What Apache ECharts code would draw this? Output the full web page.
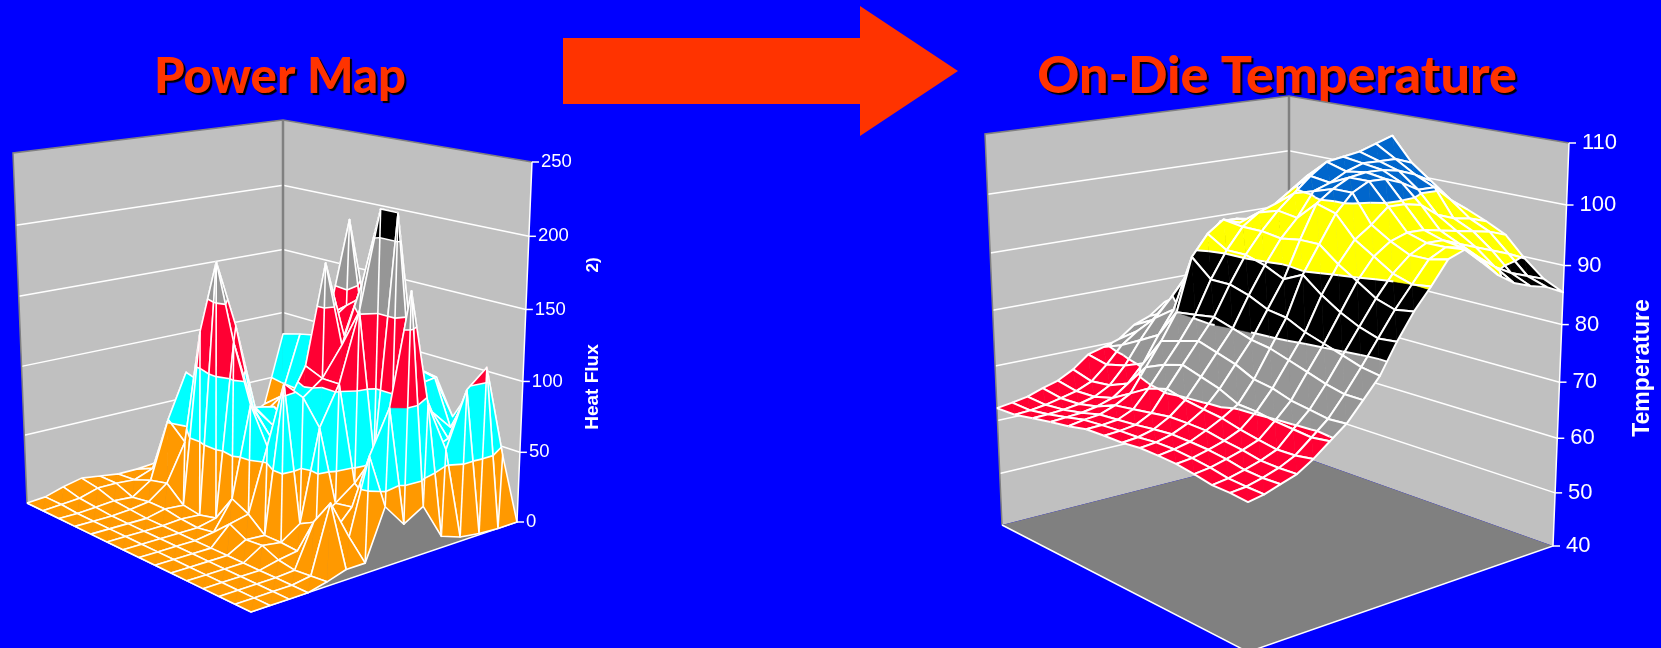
<!DOCTYPE html>
<html>
<head>
<meta charset="utf-8">
<title>Power Map / On-Die Temperature</title>
<style>
    html, body { margin: 0; padding: 0; background: #0000ff; }
    #chart { position: absolute; top: 0; left: 0; width: 1661px; height: 648px; }
</style>
<script src="https://cdn.jsdelivr.net/npm/echarts@6/dist/echarts.min.js"></script>
</head>
<body>
<div id="chart"></div>
<script>
// heat flux, rows run from the back left edge to the front, columns from front left to back right
let powerRows = [
    [0, 1, 5, 8, 6, 4, 4, 5, 12, 15, 18, 20, 22, 30, 83],
    [0, 1, 2, 6, 6, 5, 10, 35, 30, 20, 25, 25, 30, 41, 87],
    [0, 0, 1, 2, 1, 10, 52, 84, 55, 40, 35, 30, 38, 46, 90],
    [0, 0, 0, 1, 3, 13, 40, 80, 50, 45, 42, 35, 40, 60, 50],
    [0, 0, 0, 0, 3, 2, 125, 140, 60, 50, 40, 42, 85, 75, 50],
    [0, 0, 0, 0, 1, 0, 178, 130, 68, 65, 50, 70, 115, 110, 60],
    [0, 0, 0, 0, 0, 3, 125, 76, 60, 55, 80, 130, 196, 120, 70],
    [0, 0, 0, 0, 2, 22, 85, 60, 65, 103, 130, 140, 110, 70, 55],
    [0, 0, 0, 0, 13, 16, 60, 85, 110, 179, 125, 150, 130, 80, 60],
    [0, 0, 0, 0, 7, 6, 108, 95, 105, 125, 165, 150, 120, 95, 85],
    [0, 0, 0, 0, 8, 6, 15, 78, 105, 152, 219, 165, 90, 92, 60],
    [0, 0, 0, 0, 3, 5, 21, 30, 40, 55, 219, 110, 75, 60, 83],
    [0, 0, 0, 0, 1, 30, 18, 32, 30, 50, 100, 55, 60, 85, 84],
    [0, 0, 0, 0, 2, 47, 20, 71, 100, 175, 95, 60, 98, 110, 44],
    [0, 0, 0, 0, 3, 7, 7, 41, 25, 33, 8, 3, 1, 0, 0]
]
let powerTicks = [0, 50, 100, 150, 200, 250]
let powerColors = ["#ff9900", "#00ffff", "#ff0033", "#969696", "#000000"]

// die temperature, same orientation
let tempRows = [
    [62.3, 62.7, 63.2, 64.2, 65, 66.5, 68.7, 69.5, 70.4, 72.5, 73.6, 75.7, 76.5, 77.5, 78.5, 80, 81.5, 83, 84.5, 86],
    [62.4, 62.6, 63, 63.6, 64.3, 65.5, 68, 71, 73, 74.5, 75.5, 77, 79, 81, 83, 85, 86.5, 88, 89, 90],
    [63.1, 63.2, 63.4, 63.8, 64.5, 66, 69, 73, 76.5, 79.5, 83, 87, 89, 89.5, 90, 90.5, 91, 91, 91, 91],
    [63.7, 63.9, 64.1, 64.6, 65.5, 67.5, 70.5, 75, 79, 85, 90, 93, 93, 92.5, 92.5, 93, 93, 93, 92.5, 92],
    [64.2, 64.7, 65, 66, 67.5, 71.5, 75.5, 80, 89, 92.5, 94.5, 93.5, 93.5, 94, 95, 96, 96.5, 96.5, 96, 95],
    [64.9, 65, 65.3, 66.5, 69.5, 73, 76.5, 80.5, 86, 90.5, 94, 96, 97, 99, 101, 102, 102, 102, 102, 96],
    [65, 65.2, 65.6, 67, 70.5, 74, 77.5, 81, 86, 90.5, 94, 97, 99.5, 102, 104, 104.5, 105, 106, 107, 96],
    [65, 65.3, 66, 67.5, 69.7, 73, 76.5, 80, 85, 89.5, 93.5, 96.5, 100.5, 101.5, 103, 104, 104, 104, 103, 95.3],
    [65.3, 65.6, 66.3, 67.5, 69.2, 72, 75.5, 79, 83.5, 88, 94, 99.5, 101.5, 103, 103.5, 103.5, 103, 102, 100.5, 95.3],
    [65.2, 65.6, 66.2, 67.4, 68.8, 70.5, 74, 78.5, 83, 89.5, 94, 98.5, 101.5, 103, 103, 102, 100.5, 100.5, 98, 96],
    [65, 65.3, 66, 66.8, 68, 70.3, 73.5, 77.5, 81.5, 87, 91.5, 95, 97, 99.5, 99.5, 99, 97, 96, 95.5, 94.6],
    [64.5, 64.9, 65.6, 66.4, 67.4, 69.8, 72.5, 76.5, 80.5, 85, 89.5, 93, 95, 96, 96, 95.5, 95, 94.5, 94, 93],
    [63.9, 64.3, 65, 65.8, 66.9, 69.5, 72, 75.5, 79.5, 83.5, 87.5, 91, 93.5, 95, 95, 94, 93, 92, 91, 89.7],
    [63.8, 64.1, 64.8, 65.7, 67, 69.2, 71.5, 74.8, 78.5, 82.5, 86.5, 90, 93.5, 95, 94.5, 92.5, 90.5, 89, 88, 87],
    [63.5, 64, 64.9, 65.8, 67.5, 69.6, 71.7, 74.8, 78, 82.8, 87, 90.4, 94.2, 95.3, 92.9, 90.4, 88.6, 87.6, 86.9, 85.5]
]
let tempTicks = [40, 50, 60, 70, 80, 90, 100, 110]
let tempColors = ["#ff0033", "#ff0033", "#ff0033", "#969696", "#000000", "#ffff00", "#0066cc"]

// box corners in order left, front, right, back
let powerBox = {
    rows: powerRows,
    ticks: powerTicks,
    colors: powerColors,
    floor: [[27, 503], [251, 612], [517, 522], [283, 436]],
    rise: [[-14, -350], [0, -400], [15, -360], [0, -316]],
    bend: 0.04,
    labelGap: 9,
    tickLen: 7,
    fontSize: 18.5,
    lineWidth: 1.6,
    diagonal: 60
}
let tempBox = {
    rows: tempRows,
    ticks: tempTicks,
    colors: tempColors,
    floor: [[1002, 525], [1248, 652], [1553, 546], [1289, 452]],
    rise: [[-17, -391], [0, -475], [16, -403], [0, -356]],
    bend: 0.09,
    labelGap: 13,
    tickLen: 7,
    fontSize: 22,
    lineWidth: 2,
    diagonal: 1000
}

function mix(corners, u, v){
    return [0, 1].map(k => (1 - u) * (1 - v) * corners[0][k] + u * (1 - v) * corners[1][k] + u * v * corners[2][k] + (1 - u) * v * corners[3][k])
}

function project(box, p){
    let u = p[0] / (box.rows.length - 1)
    let v = p[1] / (box.rows[0].length - 1)
    let zMin = box.ticks[0]
    let t = (p[2] - zMin) / (box.ticks[box.ticks.length - 1] - zMin)
    let f = t * (1 - box.bend) + box.bend * t * t
    let base = mix(box.floor, u, v)
    let up = mix(box.rise, u, v)
    return [base[0] + f * up[0], base[1] + f * up[1]]
}

// keep the part of a triangle that lies between two heights
function clipAbove(poly, level, sign){
    let out = []
    poly.forEach((a, n) => {
        let b = poly[(n + 1) % poly.length]
        let da = (a[2] - level) * sign
        let db = (b[2] - level) * sign
        if (da >= 0) out.push(a)
        if ((da > 0 && db < 0) || (da < 0 && db > 0)){
            let t = da / (da - db)
            out.push([a[0] + (b[0] - a[0]) * t, a[1] + (b[1] - a[1]) * t, level])
        }
    })
    return out
}

function crossing(tri, level){
    let pts = []
    tri.forEach((a, n) => {
        let b = tri[(n + 1) % 3]
        if ((a[2] - level) * (b[2] - level) < 0){
            let t = (level - a[2]) / (b[2] - a[2])
            pts.push([a[0] + (b[0] - a[0]) * t, a[1] + (b[1] - a[1]) * t, level])
        }
    })
    return pts.length === 2 ? pts : null
}

function toPoints(box, api, poly){
    return poly.map(p => api.coord(project(box, p)))
}

function whiteLine(points, width){
    return {
        type: "polyline",
        shape: { points: points },
        style: { stroke: "#fff", lineWidth: width, fill: null, lineJoin: "round" },
        silent: true
    }
}

function renderSurface(box, params, api){
    let i = api.value(0)
    let j = api.value(1)
    let at = (a, b) => [a, b, box.rows[a][b]]
    let p00 = at(i, j), p10 = at(i + 1, j), p11 = at(i + 1, j + 1), p01 = at(i, j + 1)
    let children = []
    let tris = [[p00, p10, p01], [p10, p11, p01]]
    tris.forEach(tri => {
        box.colors.forEach((color, n) => {
            let poly = clipAbove(clipAbove(tri, box.ticks[n], 1), box.ticks[n + 1], -1)
            if (poly.length < 3) return
            children.push({
                type: "polygon",
                shape: { points: toPoints(box, api, poly) },
                style: { fill: color, stroke: color, lineWidth: 0.6 },
                silent: true
            })
        })
    })
    tris.forEach(tri => {
        box.ticks.forEach((level, n) => {
            if (n === 0 || n === box.ticks.length - 1) return
            if (box.colors[n] === box.colors[n - 1]) return
            let seg = crossing(tri, level)
            if (seg) children.push(whiteLine(toPoints(box, api, seg), box.lineWidth))
        })
    })
    let zs = [p00[2], p10[2], p11[2], p01[2]]
    if (Math.max.apply(null, zs) - Math.min.apply(null, zs) > box.diagonal){
        children.push(whiteLine(toPoints(box, api, [p10, p01]), box.lineWidth))
    }
    children.push(whiteLine(toPoints(box, api, [p00, p10, p11, p01, p00]), box.lineWidth))
    return { type: "group", children: children }
}

function renderWalls(box, params, api){
    let nI = box.rows.length - 1
    let nJ = box.rows[0].length - 1
    let lo = box.ticks[0]
    let hi = box.ticks[box.ticks.length - 1]
    let poly = list => toPoints(box, api, list)
    let plain = (list, fill) => ({ type: "polygon", shape: { points: poly(list) }, style: { fill: fill } , silent: true })
    let line = (list, color, width) => ({
        type: "polyline",
        shape: { points: poly(list) },
        style: { stroke: color, lineWidth: width, fill: null },
        silent: true
    })
    let children = [
        plain([[0, 0, lo], [0, nJ, lo], [0, nJ, hi], [0, 0, hi]], "#c0c0c0"),
        plain([[0, nJ, lo], [nI, nJ, lo], [nI, nJ, hi], [0, nJ, hi]], "#c0c0c0"),
        plain([[0, 0, lo], [nI, 0, lo], [nI, nJ, lo], [0, nJ, lo]], "#808080")
    ]
    box.ticks.slice(1, -1).forEach(tick => {
        children.push(line([[0, 0, tick], [0, nJ, tick], [nI, nJ, tick]], "#fff", 1.5))
    })
    children.push(line([[0, 0, lo], [0, 0, hi], [0, nJ, hi], [nI, nJ, hi]], "#808080", 1.5))
    children.push(line([[0, nJ, lo], [0, nJ, hi]], "#808080", 2.5))
    children.push(line([[0, 0, lo], [nI, 0, lo], [nI, nJ, lo], [nI, nJ, hi]], "#fff", 1.5))
    return { type: "group", children: children }
}

function renderTick(box, params, api){
    let tick = api.value(0)
    let nI = box.rows.length - 1
    let nJ = box.rows[0].length - 1
    let p = api.coord(project(box, [nI, nJ, tick]))
    return {
        type: "group",
        children: [
            whiteLine([p, [p[0] + box.tickLen, p[1]]], 1.5),
            {
                type: "text",
                x: p[0] + box.labelGap,
                y: p[1],
                style: {
                    text: String(tick),
                    fill: "#fff",
                    fontFamily: "Liberation Sans",
                    fontSize: box.fontSize,
                    verticalAlign: "middle",
                    align: "left"
                },
                silent: true
            }
        ]
    }
}

function quadList(box){
    let list = []
    for (let i = 0; i < box.rows.length - 1; i++){
        for (let j = box.rows[0].length - 2; j >= 0; j--){
            list.push([i, j])
        }
    }
    return list
}

function seriesFor(box){
    return [
        {
            type: "custom",
            coordinateSystem: "cartesian2d",
            data: [[0, 0]],
            clip: false,
            silent: true,
            animation: false,
            renderItem: (params, api) => renderWalls(box, params, api)
        },
        {
            type: "custom",
            coordinateSystem: "cartesian2d",
            data: quadList(box),
            clip: false,
            silent: true,
            animation: false,
            progressive: 0,
            renderItem: (params, api) => renderSurface(box, params, api)
        },
        {
            type: "custom",
            coordinateSystem: "cartesian2d",
            data: box.ticks.map(t => [t, 0]),
            encode: { x: 0, y: 1 },
            clip: false,
            silent: true,
            animation: false,
            renderItem: (params, api) => renderTick(box, params, api)
        }
    ]
}

function headline(text, cx, cy, size){
    return {
        type: "text",
        x: cx,
        y: cy,
        silent: true,
        style: {
            text: text,
            fill: "#ff3300",
            fontFamily: "Comic Sans MS, Lato, Noto Sans",
            fontWeight: 900,
            fontSize: size,
            align: "center",
            verticalAlign: "middle",
            textShadowColor: "#000",
            textShadowBlur: 1,
            textShadowOffsetX: 2,
            textShadowOffsetY: 2
        }
    }
}

function axisName(text, cx, cy, size){
    return {
        type: "text",
        x: cx,
        y: cy,
        rotation: Math.PI / 2,
        silent: true,
        style: {
            text: text,
            fill: "#fff",
            fontFamily: "Liberation Sans",
            fontWeight: "bold",
            fontSize: size,
            align: "center",
            verticalAlign: "middle"
        }
    }
}

let myChart = echarts.init(document.getElementById("chart"), null, { renderer: "canvas" })
myChart.setOption({
    backgroundColor: "#0000ff",
    animation: false,
    tooltip: { show: false },
    grid: { left: 0, right: 0, top: 0, bottom: 0 },
    xAxis: { type: "value", min: 0, max: 1661, show: false },
    yAxis: { type: "value", min: 0, max: 648, inverse: true, show: false },
    series: seriesFor(powerBox).concat(seriesFor(tempBox)),
    graphic: [
        {
            type: "polygon",
            silent: true,
            shape: { points: [[563, 38], [860, 38], [860, 6], [958, 71], [860, 136], [860, 104], [563, 104]] },
            style: { fill: "#ff3300" }
        },
        headline("Power Map", 280, 77, 49),
        headline("On-Die Temperature", 1277, 76, 52),
        axisName("Heat Flux", 593, 387, 19),
        axisName("2)", 593, 265, 17),
        axisName("Temperature", 1643, 368, 23)
    ]
})
</script>
</body>
</html>
